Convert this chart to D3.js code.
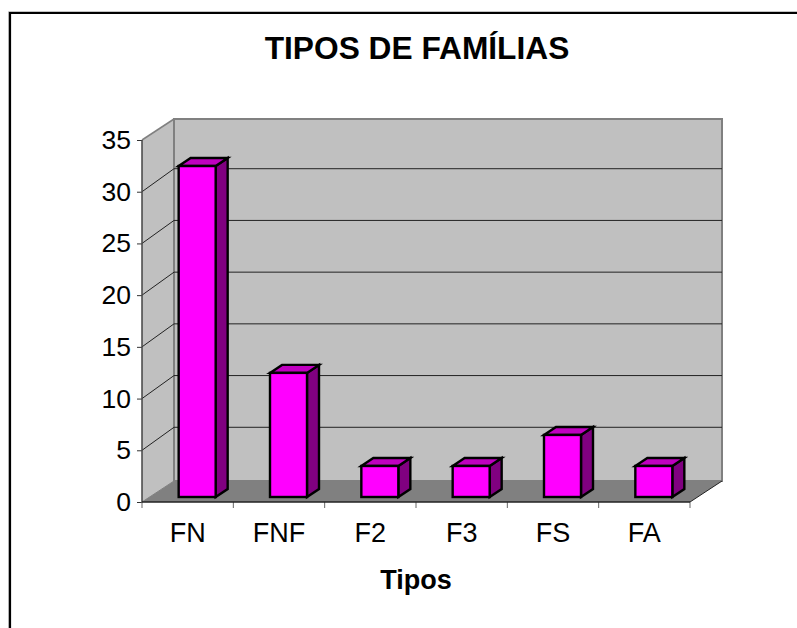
<!DOCTYPE html>
<html>
  <head>
    <meta charset="utf-8">
    <script src="https://d3js.org/d3.v7.min.js"></script>
    <title>Tipos de famílias</title>
    <style>
      html, body { margin: 0; padding: 0; background: #fff; }
      svg { display: block; }
      text { font-family: "Liberation Sans", Arial, sans-serif; fill: #000; }
    </style>
  </head>
  <body>

    <svg></svg>

    <script type="text/javascript">

      var categories = ["FN", "FNF", "F2", "F3", "FS", "FA"];
      var values = [32, 12, 3, 3, 6, 3];
      var yTicks = [0, 5, 10, 15, 20, 25, 30, 35];

      var width = 797, height = 628;
      var left = 142, right = 690, bottom = 502, top_ = 140;
      var depthX = 32, depthY = 21;   // how far the back wall sits from the front
      var gridRise = 23;              // gridlines climb a little more than the wall edges
      var barDepthX = 12, barDepthY = 8;
      var barInsetX = 9.5, barInsetY = 5;
      var barWidth = 37;

      var svg = d3.select("svg")
                  .attr("width", width)
                  .attr("height", height);

      var x = d3.scaleBand().domain(categories).range([left, right]);
      var y = d3.scaleLinear().domain([0, 35]).range([bottom, top_]);

      var poly = pts => pts.map(p => p.join(",")).join(" ");

      // outer frame, soft gray edge then black
      svg.append("path")
        .attr("d", `M8.5,${height} V11.5 H${width}`)
        .attr("fill", "none")
        .attr("stroke", "#c4c4c4")
        .attr("stroke-width", 1);
      svg.append("path")
        .attr("d", `M10,${height} V13 H${width}`)
        .attr("fill", "none")
        .attr("stroke", "#000")
        .attr("stroke-width", 2.2);

      // side wall
      svg.append("polygon")
        .attr("points", poly([[left, y(0)], [left, y(35)], [left + depthX, y(35) - depthY], [left + depthX, y(0) - depthY]]))
        .attr("fill", "#c0c0c0");

      // back wall
      svg.append("rect")
        .attr("x", left + depthX)
        .attr("y", y(35) - depthY)
        .attr("width", right - left)
        .attr("height", y(0) - y(35))
        .attr("fill", "#c0c0c0")
        .attr("stroke", "#808080")
        .attr("stroke-width", 2);

      // floor
      svg.append("polygon")
        .attr("points", poly([[left, y(0)], [right, y(0)], [right + depthX, y(0) - depthY], [left + depthX, y(0) - depthY]]))
        .attr("fill", "#808080");

      // gridlines, along side wall and back wall
      svg.selectAll("path.grid")
        .data(yTicks.filter(t => t > 0 && t < 35))
        .join("path")
        .attr("class", "grid")
        .attr("d", t => `M${left},${y(t)} L${left + depthX},${y(t) - gridRise} H${right + depthX}`)
        .attr("fill", "none")
        .attr("stroke", "#222")
        .attr("stroke-width", 1);

      // wall edges in gray
      svg.append("path")
        .attr("d", `M${left},${y(35)} L${left + depthX},${y(35) - depthY}`)
        .attr("stroke", "#808080")
        .attr("stroke-width", 1.5);

      svg.append("path")
        .attr("d", `M${left},${y(0)} L${left + depthX},${y(0) - depthY}`)
        .attr("stroke", "#808080")
        .attr("stroke-width", 1);

      svg.append("path")
        .attr("d", `M${right},${y(0)} L${right + depthX},${y(0) - depthY}`)
        .attr("stroke", "#222")
        .attr("stroke-width", 1);

      // axes
      var yAxis = d3.axisLeft(y).tickValues(yTicks).tickSize(5).tickPadding(6);
      var gy = svg.append("g")
        .attr("transform", `translate(${left},0)`)
        .call(yAxis);
      gy.selectAll("path").remove();
      gy.selectAll("line").attr("stroke", "#333");
      gy.selectAll("text")
        .attr("font-size", 26.5)
        .style("font-family", '"Liberation Sans", Arial, sans-serif');
      svg.append("line")
        .attr("x1", left).attr("x2", left)
        .attr("y1", y(0)).attr("y2", y(35))
        .attr("stroke", "#444")
        .attr("stroke-width", 1.5);

      var tickEdges = categories.map(c => x(c)).concat([right]);
      svg.selectAll("line.xtick")
        .data(tickEdges)
        .join("line")
        .attr("class", "xtick")
        .attr("x1", d => d).attr("x2", d => d)
        .attr("y1", bottom).attr("y2", bottom + 6)
        .attr("stroke", "#666");
      svg.append("line")
        .attr("x1", left).attr("x2", right)
        .attr("y1", bottom).attr("y2", bottom)
        .attr("stroke", "#222")
        .attr("stroke-width", 1.5);

      svg.selectAll("text.cat")
        .data(categories)
        .join("text")
        .attr("class", "cat")
        .attr("x", c => x(c) + x.bandwidth() / 2)
        .attr("y", 542)
        .attr("text-anchor", "middle")
        .attr("font-size", 27)
        .text(c => c);

      // bars
      var bars = svg.selectAll("g.bar")
        .data(categories.map((c, i) => ({ c: c, v: values[i] })))
        .join("g")
        .attr("class", "bar")
        .attr("stroke", "#000")
        .attr("stroke-width", 2.4)
        .attr("stroke-linejoin", "miter");

      var bx = d => x(d.c) + (x.bandwidth() - barWidth) / 2 + barInsetX;
      var by = d => y(d.v) - barInsetY;
      var bb = y(0) - barInsetY;

      bars.append("polygon")
        .attr("points", d => poly([[bx(d) + barWidth, by(d)], [bx(d) + barWidth + barDepthX, by(d) - barDepthY], [bx(d) + barWidth + barDepthX, bb - barDepthY], [bx(d) + barWidth, bb]]))
        .attr("fill", "#800080");

      bars.append("polygon")
        .attr("points", d => poly([[bx(d), by(d)], [bx(d) + barDepthX, by(d) - barDepthY], [bx(d) + barWidth + barDepthX, by(d) - barDepthY], [bx(d) + barWidth, by(d)]]))
        .attr("fill", "#c000c0");

      bars.append("rect")
        .attr("x", bx)
        .attr("y", by)
        .attr("width", barWidth)
        .attr("height", d => bb - by(d))
        .attr("fill", "#ff00ff");

      // titles
      svg.append("text")
        .attr("x", 417)
        .attr("y", 59)
        .attr("text-anchor", "middle")
        .attr("font-size", 31.7)
        .attr("font-weight", "bold")
        .text("TIPOS DE FAMÍLIAS");

      svg.append("text")
        .attr("x", 416)
        .attr("y", 589)
        .attr("text-anchor", "middle")
        .attr("font-size", 27)
        .attr("font-weight", "bold")
        .text("Tipos");

    </script>
  </body>
</html>
